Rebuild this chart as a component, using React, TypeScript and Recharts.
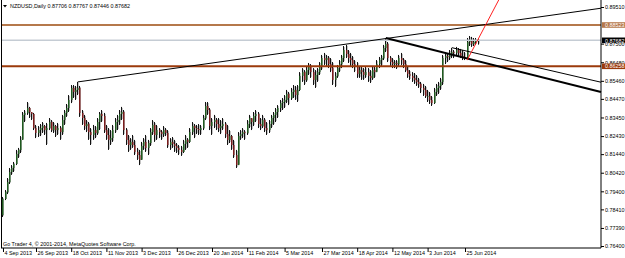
import React from 'react';
import { ComposedChart, Bar, XAxis, YAxis, ReferenceLine } from 'recharts';

// ---------- data ----------
const SYMBOL = 'NZDUSD,Daily';
const LAST_QUOTE = [0.87706, 0.87767, 0.87446, 0.87682];
const COPYRIGHT = 'Go Trader 4, \u00a9 2001-2014, MetaQuotes Software Corp.';

const FIRST_OPEN = 0.781;

const HIGH = [
  0.7909, 0.7947, 0.8013, 0.8068, 0.8084, 0.8101, 0.8167, 0.8178, 0.8243, 0.8375,
  0.8386, 0.8430, 0.8403, 0.8375, 0.8370, 0.8304, 0.8298, 0.8309, 0.8320, 0.8304,
  0.8315, 0.8342, 0.8331, 0.8320, 0.8304, 0.8315, 0.8298, 0.8359, 0.8386, 0.8419,
  0.8468, 0.8523, 0.8523, 0.8518, 0.8540, 0.8518, 0.8386, 0.8359, 0.8331, 0.8320,
  0.8287, 0.8304, 0.8298, 0.8342, 0.8375, 0.8386, 0.8370, 0.8304, 0.8287, 0.8276,
  0.8304, 0.8342, 0.8359, 0.8386, 0.8403, 0.8386, 0.8287, 0.8249, 0.8232, 0.8249,
  0.8222, 0.8178, 0.8167, 0.8211, 0.8232, 0.8249, 0.8222, 0.8287, 0.8331, 0.8320,
  0.8304, 0.8287, 0.8276, 0.8298, 0.8287, 0.8276, 0.8232, 0.8238, 0.8222, 0.8205,
  0.8194, 0.8189, 0.8222, 0.8249, 0.8232, 0.8287, 0.8320, 0.8309, 0.8304, 0.8309,
  0.8304, 0.8359, 0.8430, 0.8430, 0.8397, 0.8342, 0.8359, 0.8342, 0.8342, 0.8331,
  0.8342, 0.8320, 0.8304, 0.8276, 0.8249, 0.8222, 0.8167, 0.8265, 0.8276, 0.8287,
  0.8276, 0.8331, 0.8359, 0.8342, 0.8375, 0.8386, 0.8375, 0.8342, 0.8359, 0.8342,
  0.8320, 0.8331, 0.8359, 0.8375, 0.8397, 0.8413, 0.8441, 0.8452, 0.8468, 0.8496,
  0.8485, 0.8507, 0.8523, 0.8518, 0.8523, 0.8594, 0.8616, 0.8605, 0.8627, 0.8644,
  0.8638, 0.8616, 0.8605, 0.8616, 0.8649, 0.8688, 0.8699, 0.8688, 0.8682, 0.8671,
  0.8649, 0.8594, 0.8633, 0.8660, 0.8688, 0.8737, 0.8743, 0.8715, 0.8699, 0.8682,
  0.8660, 0.8649, 0.8627, 0.8622, 0.8616, 0.8622, 0.8616, 0.8605, 0.8627, 0.8622,
  0.8660, 0.8677, 0.8688, 0.8743, 0.8781, 0.8759, 0.8682, 0.8671, 0.8660, 0.8660,
  0.8688, 0.8699, 0.8671, 0.8660, 0.8627, 0.8605, 0.8594, 0.8589, 0.8578, 0.8562,
  0.8540, 0.8529, 0.8518, 0.8496, 0.8485, 0.8463, 0.8507, 0.8529, 0.8540, 0.8562,
  0.8688, 0.8699, 0.8693, 0.8715, 0.8726, 0.8715, 0.8732, 0.8726, 0.8721, 0.8715,
  0.8704, 0.8781, 0.8792, 0.8787, 0.8781, 0.8781, 0.87767,
];

const LOW = [
  0.7799, 0.7892, 0.7925, 0.7980, 0.8030, 0.8046, 0.8084, 0.8123, 0.8150, 0.8222,
  0.8320, 0.8359, 0.8342, 0.8331, 0.8276, 0.8232, 0.8238, 0.8243, 0.8260, 0.8249,
  0.8194, 0.8276, 0.8265, 0.8260, 0.8238, 0.8249, 0.8222, 0.8249, 0.8304, 0.8348,
  0.8375, 0.8424, 0.8452, 0.8441, 0.8468, 0.8348, 0.8304, 0.8276, 0.8265, 0.8222,
  0.8194, 0.8222, 0.8232, 0.8249, 0.8276, 0.8320, 0.8260, 0.8222, 0.8167, 0.8194,
  0.8211, 0.8260, 0.8276, 0.8304, 0.8331, 0.8249, 0.8194, 0.8156, 0.8167, 0.8178,
  0.8139, 0.8112, 0.8084, 0.8112, 0.8167, 0.8156, 0.8139, 0.8189, 0.8249, 0.8211,
  0.8222, 0.8232, 0.8222, 0.8238, 0.8243, 0.8178, 0.8167, 0.8178, 0.8156, 0.8150,
  0.8139, 0.8134, 0.8150, 0.8167, 0.8178, 0.8205, 0.8249, 0.8232, 0.8254, 0.8249,
  0.8249, 0.8276, 0.8331, 0.8359, 0.8276, 0.8249, 0.8287, 0.8276, 0.8265, 0.8254,
  0.8276, 0.8232, 0.8194, 0.8205, 0.8167, 0.8123, 0.8068, 0.8084, 0.8222, 0.8232,
  0.8222, 0.8249, 0.8287, 0.8276, 0.8298, 0.8320, 0.8287, 0.8276, 0.8287, 0.8265,
  0.8249, 0.8260, 0.8287, 0.8304, 0.8320, 0.8342, 0.8375, 0.8386, 0.8397, 0.8424,
  0.8413, 0.8441, 0.8452, 0.8441, 0.8430, 0.8490, 0.8540, 0.8523, 0.8540, 0.8578,
  0.8562, 0.8523, 0.8507, 0.8540, 0.8578, 0.8605, 0.8633, 0.8627, 0.8616, 0.8594,
  0.8523, 0.8512, 0.8562, 0.8594, 0.8616, 0.8649, 0.8671, 0.8644, 0.8627, 0.8616,
  0.8594, 0.8562, 0.8562, 0.8551, 0.8551, 0.8562, 0.8540, 0.8534, 0.8551, 0.8562,
  0.8594, 0.8616, 0.8627, 0.8660, 0.8704, 0.8649, 0.8627, 0.8616, 0.8616, 0.8611,
  0.8627, 0.8633, 0.8616, 0.8594, 0.8562, 0.8551, 0.8540, 0.8529, 0.8518, 0.8507,
  0.8479, 0.8463, 0.8452, 0.8430, 0.8419, 0.8408, 0.8419, 0.8463, 0.8474, 0.8496,
  0.8523, 0.8638, 0.8649, 0.8660, 0.8671, 0.8671, 0.8682, 0.8677, 0.8671, 0.8660,
  0.8660, 0.8660, 0.8737, 0.8732, 0.8737, 0.8743, 0.87446,
];

const CLOSE = [
  0.7898, 0.7936, 0.7991, 0.8046, 0.8068, 0.8090, 0.8145, 0.8167, 0.8222, 0.8359,
  0.8370, 0.8397, 0.8375, 0.8364, 0.8287, 0.8260, 0.8276, 0.8287, 0.8298, 0.8276,
  0.8287, 0.8320, 0.8276, 0.8298, 0.8276, 0.8287, 0.8265, 0.8331, 0.8370, 0.8397,
  0.8441, 0.8507, 0.8485, 0.8496, 0.8507, 0.8370, 0.8342, 0.8298, 0.8309, 0.8265,
  0.8249, 0.8276, 0.8260, 0.8320, 0.8364, 0.8353, 0.8276, 0.8249, 0.8222, 0.8232,
  0.8276, 0.8320, 0.8331, 0.8364, 0.8375, 0.8276, 0.8222, 0.8194, 0.8211, 0.8194,
  0.8156, 0.8139, 0.8112, 0.8189, 0.8211, 0.8178, 0.8205, 0.8265, 0.8304, 0.8249,
  0.8276, 0.8265, 0.8254, 0.8276, 0.8260, 0.8194, 0.8211, 0.8200, 0.8189, 0.8178,
  0.8167, 0.8156, 0.8200, 0.8222, 0.8211, 0.8265, 0.8298, 0.8287, 0.8282, 0.8276,
  0.8287, 0.8342, 0.8408, 0.8386, 0.8298, 0.8320, 0.8331, 0.8309, 0.8287, 0.8298,
  0.8309, 0.8254, 0.8222, 0.8243, 0.8194, 0.8139, 0.8084, 0.8243, 0.8254, 0.8265,
  0.8260, 0.8309, 0.8342, 0.8320, 0.8353, 0.8364, 0.8309, 0.8298, 0.8331, 0.8287,
  0.8276, 0.8309, 0.8342, 0.8359, 0.8375, 0.8397, 0.8424, 0.8430, 0.8441, 0.8474,
  0.8452, 0.8485, 0.8496, 0.8468, 0.8496, 0.8573, 0.8594, 0.8551, 0.8605, 0.8627,
  0.8594, 0.8551, 0.8578, 0.8594, 0.8627, 0.8671, 0.8660, 0.8671, 0.8638, 0.8616,
  0.8551, 0.8573, 0.8616, 0.8638, 0.8671, 0.8715, 0.8693, 0.8671, 0.8660, 0.8638,
  0.8627, 0.8584, 0.8605, 0.8594, 0.8578, 0.8594, 0.8573, 0.8562, 0.8605, 0.8594,
  0.8638, 0.8660, 0.8671, 0.8726, 0.8748, 0.8671, 0.8649, 0.8638, 0.8644, 0.8638,
  0.8671, 0.8660, 0.8638, 0.8605, 0.8584, 0.8573, 0.8562, 0.8551, 0.8540, 0.8529,
  0.8507, 0.8496, 0.8463, 0.8463, 0.8441, 0.8424, 0.8485, 0.8507, 0.8518, 0.8540,
  0.8671, 0.8682, 0.8677, 0.8693, 0.8704, 0.8699, 0.8715, 0.8699, 0.8682, 0.8677,
  0.8666, 0.8759, 0.8770, 0.8748, 0.8759, 0.8770, 0.87682,
];

// each daily bar opens where the previous one closed; the last bar's open is in the header
const OPEN = CLOSE.map((_, i) =>
  i === 0 ? FIRST_OPEN : i === CLOSE.length - 1 ? LAST_QUOTE[0] : CLOSE[i - 1]
);

const DATE_TICK_INDEX = [0, 15, 31, 47, 63, 79, 95, 111, 128, 145, 161, 177, 193, 210];
const DATE_TICK_LABELS = [
  '4 Sep 2013', '26 Sep 2013', '18 Oct 2013', '11 Nov 2013', '3 Dec 2013', '26 Dec 2013',
  '20 Jan 2014', '11 Feb 2014', '5 Mar 2014', '27 Mar 2014', '18 Apr 2014', '12 May 2014',
  '3 Jun 2014', '25 Jun 2014',
];

const PRICE_TICKS = [
  0.8951, 0.875, 0.8648, 0.8546, 0.8447, 0.8345, 0.8243, 0.8144, 0.8042,
  0.794, 0.7841, 0.7739, 0.764,
];

const LEVEL_PRICES = [0.88523, 0.86258];
const LEVEL_COLORS = ['#b5784b', '#9b3a0b'];
const BID_PRICE = 0.87682;

// trend lines: anchor bar index / price, second bar index / price
const TREND_FROM = [[34, 0.854], [174, 0.8781], [204, 0.8728], [211, 0.866]];
const TREND_TO = [[174, 0.8778], [210, 0.8672], [253, 0.8591], [216, 0.8775]];
const TREND_COLORS = ['#000000', '#000000', '#000000', '#ff2020'];
const TREND_WIDTHS = [1, 2, 1, 1];

// ---------- layout ----------
const W = 625;
const H = 258;
const X_MIN = -0.909;
const X_MAX = 271.82;
const Y_MIN = 0.76291;
const Y_MAX = 0.89894;
const FONT = '"Liberation Sans", Arial, sans-serif';
const FS = 5.4;

const data = CLOSE.map((c, i) => ({ i, open: OPEN[i], high: HIGH[i], low: LOW[i], close: c }));

const Candle = (props: any) => {
  const { x, y, width, height } = props;
  const d = props.payload && props.payload.high != null ? props.payload : props;
  if (x == null || y == null || !isFinite(y) || !isFinite(height)) return null;
  const cx = Math.floor(x + width / 2) + 0.5;
  const range = d.high - d.low || 1e-9;
  const yOf = (v: number) => y + ((d.high - v) / range) * height;
  const yo = yOf(d.open);
  const yc = yOf(d.close);
  const top = Math.min(yo, yc);
  const bot = Math.max(yo, yc);
  const bull = d.close >= d.open;
  return (
    <g>
      <line x1={cx + 1} x2={cx + 1} y1={y + 1} y2={y + height - 1} stroke="#c4c4c4" strokeWidth={1} />
      <line x1={cx} x2={cx} y1={y} y2={y + height} stroke="#111" strokeWidth={1} />
      <rect x={cx - 0.5} y={top} width={1.5} height={Math.max(bot - top, 0.8)} fill={bull ? '#1f5a1f' : '#7a1c1c'} />
    </g>
  );
};

const XTick = (props: any) => {
  const { x, y, payload } = props;
  const k = DATE_TICK_INDEX.indexOf(payload.value);
  return (
    <g>
      <line x1={x + 0.5} x2={x + 0.5} y1={y} y2={y + 4} stroke="#000" strokeWidth={1} />
      <text x={x + 1.5} y={y + 5.2} fontSize={FS} fontFamily={FONT} fill="#000" textAnchor="start" dominantBaseline="central">
        {k >= 0 ? DATE_TICK_LABELS[k] : ''}
      </text>
    </g>
  );
};

const YTick = (props: any) => {
  const { x, y, payload } = props;
  const v = payload.value;
  const li = LEVEL_PRICES.indexOf(v);
  if (li >= 0 || v === BID_PRICE) {
    const fill = li >= 0 ? LEVEL_COLORS[li] : '#000';
    return (
      <g>
        <rect x={x + 1} y={y - 2.8} width={24} height={5.6} fill={fill} />
        <text x={x + 4} y={y + 0.2} fontSize={FS} fontFamily={FONT} fill="#fff" dominantBaseline="central">
          {v.toFixed(5)}
        </text>
      </g>
    );
  }
  return (
    <g>
      <line x1={x} x2={x + 3} y1={y + 0.5} y2={y + 0.5} stroke="#000" strokeWidth={1} />
      <text x={x + 4} y={y + 0.3} fontSize={FS} fontFamily={FONT} fill="#000" dominantBaseline="central">
        {v.toFixed(5)}
      </text>
    </g>
  );
};

function extend(from: number[], to: number[]) {
  const slope = (to[1] - from[1]) / (to[0] - from[0]);
  let ex = X_MAX;
  let ey = from[1] + slope * (X_MAX - from[0]);
  if (ey > Y_MAX) {
    ex = from[0] + (Y_MAX - from[1]) / slope;
    ey = Y_MAX;
  } else if (ey < Y_MIN) {
    ex = from[0] + (Y_MIN - from[1]) / slope;
    ey = Y_MIN;
  }
  return [{ x: from[0], y: from[1] }, { x: ex, y: ey }];
}

export default function App() {
  const yTicks = [...PRICE_TICKS, BID_PRICE, ...LEVEL_PRICES];
  return (
    <div style={{ position: 'absolute', left: 0, top: 0, width: W, height: H, background: '#fff' }}>
      <ComposedChart width={W} height={H} data={data} margin={{ top: 0, right: 0, bottom: 0, left: 1 }}>
        <XAxis
          type="number"
          dataKey="i"
          domain={[X_MIN, X_MAX]}
          allowDataOverflow
          ticks={DATE_TICK_INDEX}
          interval={0}
          height={10}
          tickSize={0}
          tickMargin={0}
          tickLine={false}
          axisLine={{ stroke: '#000', strokeWidth: 1 }}
          tick={<XTick />}
        />
        <YAxis
          orientation="right"
          type="number"
          domain={[Y_MIN, Y_MAX]}
          allowDataOverflow
          ticks={yTicks}
          interval={0}
          width={24}
          tickSize={0}
          tickMargin={0}
          tickLine={false}
          axisLine={{ stroke: '#000', strokeWidth: 1 }}
          tick={<YTick />}
        />
        <ReferenceLine y={LEVEL_PRICES[0]} stroke={LEVEL_COLORS[0]} strokeWidth={2} ifOverflow="visible" />
        <ReferenceLine y={BID_PRICE} stroke="#c5ccd4" strokeWidth={1.5} ifOverflow="visible" />
        <ReferenceLine y={LEVEL_PRICES[1]} stroke={LEVEL_COLORS[1]} strokeWidth={2} ifOverflow="visible" />
        <Bar dataKey={(d: any) => [d.low, d.high]} barSize={2} shape={<Candle />} isAnimationActive={false} />
        {TREND_FROM.map((f, k) => (
          <ReferenceLine
            key={k}
            segment={extend(f, TREND_TO[k])}
            stroke={TREND_COLORS[k]}
            strokeWidth={TREND_WIDTHS[k]}
            ifOverflow="visible"
          />
        ))}
      </ComposedChart>
      <svg width={W} height={H} style={{ position: 'absolute', left: 0, top: 0, pointerEvents: 'none' }}>
        <line x1={1.5} x2={1.5} y1={0} y2={248} stroke="#000" strokeWidth={1} />
        <polygon points="3,5 7,5 5,7.5" fill="#000" />
        <text x={10} y={6.3} fontSize={FS} fontFamily={FONT} fill="#000" dominantBaseline="central">
          {SYMBOL + ' ' + LAST_QUOTE.map((v) => v.toFixed(5)).join(' ')}
        </text>
        <text x={3} y={244} fontSize={FS} fontFamily={FONT} fill="#000" dominantBaseline="central">
          {COPYRIGHT}
        </text>
      </svg>
    </div>
  );
}
